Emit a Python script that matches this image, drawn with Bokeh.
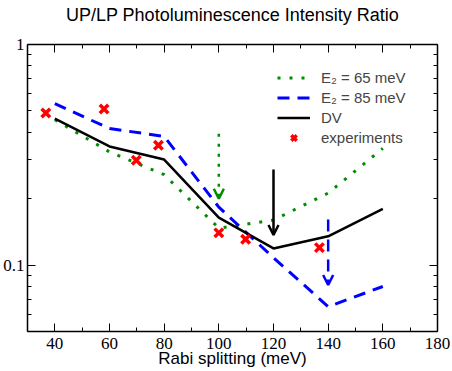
from bokeh.plotting import figure
from bokeh.models import (Range1d, FixedTicker, LinearAxis, LogAxis, Arrow, OpenHead,
                          Legend, LegendItem, CustomJSTickFormatter)
from bokeh.embed import file_html
from bokeh.resources import INLINE

title_text = "UP/LP Photoluminescence Intensity Ratio"
x_label = "Rabi splitting (meV)"

# model curves (x = Rabi splitting in meV, y = UP/LP ratio)
rabi = [40, 60, 80, 100, 120, 140, 160]
e2_65 = [0.456, 0.326, 0.257, 0.147, 0.160, 0.212, 0.338]
e2_85 = [0.539, 0.416, 0.383, 0.183, 0.108, 0.0648, 0.080]
dv = [0.461, 0.345, 0.301, 0.164, 0.119, 0.135, 0.180]

# experiments
exp_x = [36.7, 58.0, 69.8, 77.9, 100.0, 109.8, 136.8]
exp_y = [0.489, 0.510, 0.299, 0.349, 0.140, 0.131, 0.120]

# arrows (x, top value, tip value)
arrow_x = [100, 120, 140]
arrow_top = [0.394, 0.271, 0.161]
arrow_tip = [0.200, 0.137, 0.0812]

series_labels = ["E\u2082 = 65 meV", "E\u2082 = 85 meV", "DV", "experiments"]

x_major = [40, 60, 80, 100, 120, 140, 160, 180]
x_minor = [30, 50, 70, 90, 110, 130, 150, 170]
y_major = [0.1, 1]
y_minor = [0.05, 0.06, 0.07, 0.08, 0.09, 0.2, 0.3, 0.4, 0.5, 0.6, 0.7, 0.8, 0.9]

GREEN = "#008B00"
BLUE = "#0000FF"
BLACK = "#000000"
RED = "#FF0000"

p = figure(width=452, height=371, x_range=Range1d(30, 180), y_range=Range1d(0.05, 1),
           y_axis_type="log", output_backend="svg", toolbar_location=None,
           min_border_left=27, min_border_right=15, min_border_top=44, min_border_bottom=40)
p.grid.visible = False
p.outline_line_color = None
p.background_fill_color = "white"
p.border_fill_color = "white"


def style_axis(ax, ticker, labels=True):
    ax.ticker = ticker
    ax.axis_line_color = BLACK
    ax.axis_line_width = 1.5
    ax.major_tick_in = 8
    ax.major_tick_out = 0
    ax.minor_tick_in = 4
    ax.minor_tick_out = 0
    ax.major_tick_line_color = BLACK
    ax.minor_tick_line_color = BLACK
    ax.major_label_text_font = "Liberation Serif"
    ax.major_label_text_font_size = "17px"
    if labels:
        ax.major_label_text_color = BLACK
        ax.major_label_standoff = 6
    else:
        ax.major_label_text_color = None
        ax.major_label_standoff = 0


xt = FixedTicker(ticks=x_major, minor_ticks=x_minor)
yt = FixedTicker(ticks=y_major, minor_ticks=y_minor)
fmt = CustomJSTickFormatter(code="return tick.toString()")

style_axis(p.xaxis[0], xt)
style_axis(p.yaxis[0], yt)
p.yaxis[0].formatter = fmt
p.yaxis[0].major_label_standoff = 3
p.xaxis.axis_label = x_label
p.xaxis.axis_label_text_font = "Liberation Sans"
p.xaxis.axis_label_text_font_size = "17px"
p.xaxis.axis_label_text_font_style = "normal"
p.xaxis.axis_label_text_color = BLACK
p.xaxis.axis_label_standoff = -3

# mirrored top axis; it also carries the chart title, centred over the frame
top = LinearAxis()
style_axis(top, FixedTicker(ticks=x_major, minor_ticks=x_minor), labels=False)
top.axis_label = title_text
top.axis_label_text_font = "Liberation Sans"
top.axis_label_text_font_size = "18px"
top.axis_label_text_font_style = "normal"
top.axis_label_text_color = BLACK
top.axis_label_standoff = 20
p.add_layout(top, "above")
right = LogAxis()
style_axis(right, FixedTicker(ticks=y_major, minor_ticks=y_minor), labels=False)
p.add_layout(right, "right")

r65 = p.line(rabi, e2_65, line_color=GREEN, line_width=3, line_dash="3 9")
r85 = p.line(rabi, e2_85, line_color=BLUE, line_width=3, line_dash="12 8")
rdv = p.line(rabi, dv, line_color=BLACK, line_width=2.5)
rexp = p.scatter(exp_x, exp_y, marker="x", size=12, line_color=RED, line_width=3.5)

arrow_colors = [GREEN, BLACK, BLUE]
arrow_dashes = ["3 7", "solid", "12 8"]
for xa, y0, y1, col, dash in zip(arrow_x, arrow_top, arrow_tip, arrow_colors, arrow_dashes):
    p.add_layout(Arrow(x_start=xa, y_start=y0, x_end=xa, y_end=y1,
                       line_color=col, line_width=2.5, line_dash=dash,
                       end=OpenHead(size=10, line_color=col, line_width=2.5)))

legend = Legend(items=[LegendItem(label=series_labels[0], renderers=[r65]),
                       LegendItem(label=series_labels[1], renderers=[r85]),
                       LegendItem(label=series_labels[2], renderers=[rdv]),
                       LegendItem(label=series_labels[3], renderers=[rexp])],
                location="top_right", border_line_color=None, background_fill_alpha=0,
                label_text_font="Liberation Sans", label_text_font_size="15px",
                glyph_width=33, glyph_height=19, label_height=19, label_width=92,
                spacing=1, padding=0, margin=24, label_standoff=11)
p.add_layout(legend)

open("out.html", "w").write(file_html(p, INLINE))
